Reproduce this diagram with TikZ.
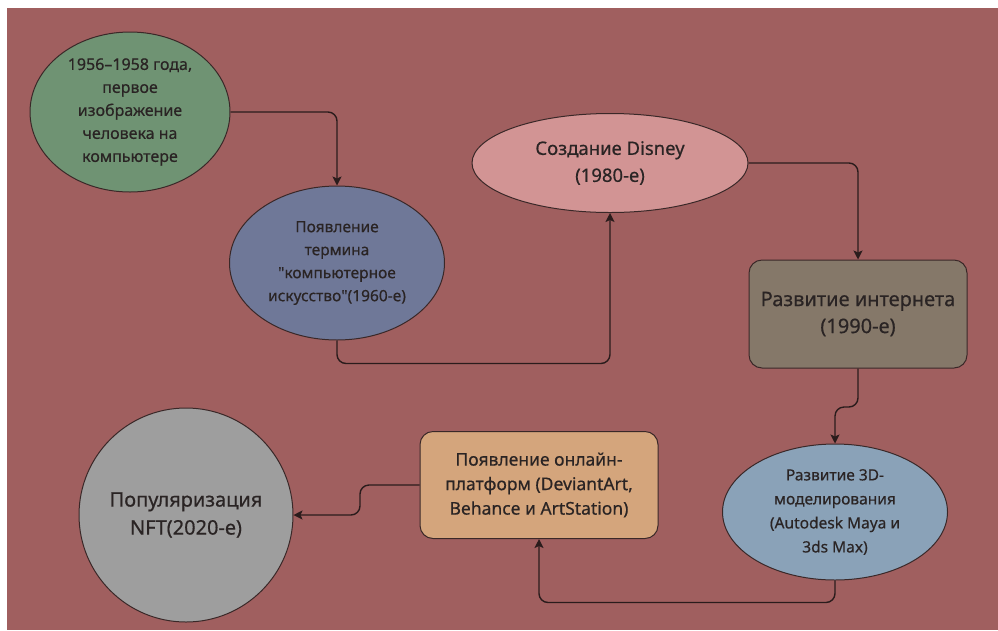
\documentclass[tikz,border=0pt]{standalone}
\usepackage{fontspec}
\setmainfont{Noto Sans}[FakeBold=0.5]
\usetikzlibrary{shapes.geometric, arrows.meta}

\definecolor{bgred}{HTML}{A05F5F}
\definecolor{edge}{HTML}{3A2828}
\definecolor{wire}{HTML}{2A1C1C}
\definecolor{ink}{HTML}{2A2424}
\definecolor{greenfill}{HTML}{6F9373}
\definecolor{bluefill}{HTML}{6F7898}
\definecolor{pinkfill}{HTML}{D29494}
\definecolor{brownfill}{HTML}{857869}
\definecolor{skyfill}{HTML}{8AA2B8}
\definecolor{sandfill}{HTML}{D4A57C}
\definecolor{greyfill}{HTML}{9E9E9E}

\begin{document}
\begin{tikzpicture}[x=1pt, y=-1pt,
    blob/.style={draw=edge, line width=1pt, ellipse, inner sep=0pt, align=center, text=ink},
    card/.style={draw=edge, line width=1pt, rectangle, rounded corners=13pt, inner sep=0pt, align=center, text=ink},
    link/.style={draw=wire, line width=1.4pt, rounded corners=9pt, -{Stealth[length=9pt, width=9pt, inset=2pt]}}]
    % Page
    \useasboundingbox (0,0) rectangle (998,630);
    \fill[white] (0,0) rectangle (998,630);
    \fill[bgred] (7,8) rectangle (998,630);

    % Nodes
    \node[blob, fill=greenfill, minimum width=200pt, minimum height=160pt, font=\fontsize{16}{23}\selectfont] (first) at (130,112) {1956–1958 года,\\первое\\изображение\\человека на\\компьютере};
    \node[blob, fill=bluefill, minimum width=215pt, minimum height=154pt, font=\fontsize{15.5}{23}\selectfont] (term) at (337,263) {Появление\\термина\\\textquotedbl компьютерное\\искусство\textquotedbl(1960-е)};
    \node[blob, fill=pinkfill, minimum width=276pt, minimum height=99pt, font=\fontsize{18.5}{27}\selectfont] (disney) at (610,163) {Создание Disney\\(1980-е)};
    \node[card, fill=brownfill, minimum width=218pt, minimum height=108pt, font=\fontsize{20}{27}\selectfont] (web) at (858,314) {Развитие интернета\\(1990-е)};
    \node[blob, fill=skyfill, minimum width=225pt, minimum height=136pt, font=\fontsize{15.5}{24}\selectfont] (model) at (835,512) {Развитие 3D-\\моделирования\\(Autodesk Maya и\\3ds Max)};
    \node[card, fill=sandfill, minimum width=238pt, minimum height=107pt, font=\fontsize{17.5}{24.5}\selectfont] (online) at (539,485) {Появление онлайн-\\платформ (DeviantArt,\\Behance и ArtStation)};
    \node[blob, fill=greyfill, circle, minimum size=214pt, font=\fontsize{20}{28}\selectfont] (nft) at (186,515) {Популяризация\\NFT(2020-е)};

    % Arrows
    \draw[link] (first.east) -| (term.north);
    \draw[link] (term.south) -- ++(0,23) -| (disney.south);
    \draw[link] (disney.east) -| (web.north);
    \draw[link] (web.south) -- (858,407) -- (835,407) -- (model.north);
    \draw[link] (model.south) -- ++(0,22) -| (online.south);
    \draw[link] (online.west) -- (360,485) -- (360,515) -- (nft.east);
\end{tikzpicture}
\end{document}
